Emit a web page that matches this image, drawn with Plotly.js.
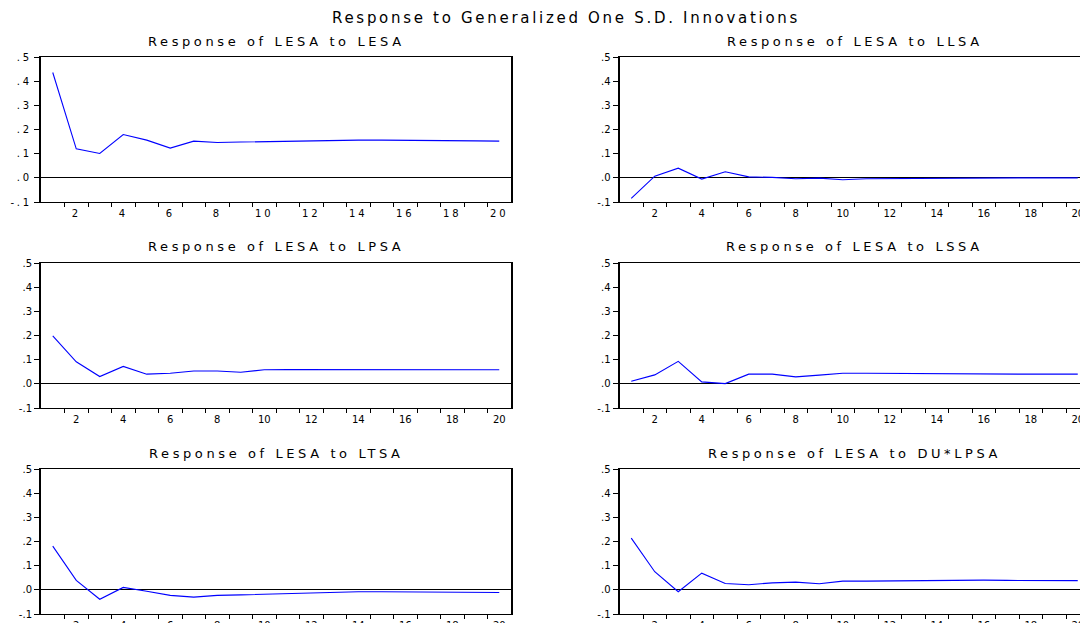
<!DOCTYPE html>
<html>
<head>
<meta charset="utf-8">
<script src="https://cdn.plot.ly/plotly-3.0.1.min.js"></script>
<style>
  html, body { margin: 0; padding: 0; overflow: hidden; background: #fff; }
  #chart { width: 1132px; height: 640px; }
  .gtitle { letter-spacing: 2.7px; }
  .annotation-text { letter-spacing: 3.6px; }
  .xtick text, .ytick text { letter-spacing: 2.8px; }
</style>
</head>
<body>
<div id="chart"></div>
<script>
// Periods
const periods = [1,2,3,4,5,6,7,8,9,10,11,12,13,14,15,16,17,18,19,20];

// Responses of LESA to each shock
const toLESA   = [0.436,0.120,0.101,0.179,0.156,0.123,0.152,0.146,0.148,0.150,0.153,0.152,0.156,0.156,0.156,0.156,0.156,0.155,0.153,0.152];
const toLLSA   = [-0.085,0.007,0.040,-0.005,0.025,0.004,0.002,-0.004,-0.001,-0.008,-0.004,-0.003,-0.003,-0.002,-0.001,0.000,0.000,0.000,0.000,0.000];
const toLPSA   = [0.198,0.091,0.030,0.072,0.040,0.044,0.053,0.053,0.048,0.058,0.059,0.059,0.060,0.060,0.060,0.060,0.060,0.059,0.059,0.058];
const toLSSA   = [0.011,0.037,0.093,0.008,0.001,0.040,0.040,0.029,0.036,0.044,0.044,0.043,0.043,0.043,0.042,0.040,0.040,0.040,0.040,0.040];
const toLTSA   = [0.181,0.039,-0.039,0.010,-0.006,-0.023,-0.030,-0.023,-0.021,-0.018,-0.017,-0.012,-0.008,-0.008,-0.008,-0.008,-0.009,-0.009,-0.010,-0.011];
const toDULPSA = [0.214,0.075,-0.008,0.069,0.026,0.021,0.029,0.032,0.025,0.036,0.036,0.037,0.039,0.040,0.040,0.040,0.039,0.039,0.038,0.038];

const series = [toLESA, toLLSA, toLPSA, toLSSA, toLTSA, toDULPSA];
const panelTitles = [
  "Response of LESA to LESA", "Response of LESA to LLSA",
  "Response of LESA to LPSA", "Response of LESA to LSSA",
  "Response of LESA to LTSA", "Response of LESA to DU*LPSA"
];

// Tick labels
const xTickVals = [2,4,6,8,10,12,14,16,18,20];
const xTickText = ["2","4","6","8","10","12","14","16","18","20"];
const xMinorVals = [1.5,2.5,3.5,4.5,5.5,6.5,7.5,8.5,9.5,10.5,11.5,12.5,13.5,14.5,15.5,16.5,17.5,18.5,19.5];
const yTickVals = [-0.1,0,0.1,0.2,0.3,0.4,0.5];
const yTickText = ["-.1",".0",".1",".2",".3",".4",".5"];
const mainTitle = "Response to Generalized One S.D. Innovations";

const W = 1132, H = 640;
const colDom = [[41/W, 511/W], [619.5/W, 1089.5/W]];
const rowPx = [[57,202],[263,408],[469,614]];
const rowDom = rowPx.map(r => [1 - r[1]/H, 1 - r[0]/H]);

const FONT = "DejaVu Sans, Verdana, sans-serif";
const data = [];
const layout = {
  width: W, height: H,
  margin: {l:0, r:0, t:0, b:0},
  paper_bgcolor: "#fff", plot_bgcolor: "#fff",
  showlegend: false,
  font: {family: FONT, color: "#000", size: 10},
  title: {text: mainTitle, font: {family: FONT, size: 15, color: "#000"},
          x: 0.5, xanchor: "center", y: 1 - 18/H, yanchor: "middle", yref: "container"},
  annotations: []
};

for (let i = 0; i < 6; i++) {
  const row = Math.floor(i/2), col = i % 2;
  const n = i + 1;
  const xa = "xaxis" + (n === 1 ? "" : n), ya = "yaxis" + (n === 1 ? "" : n);
  const xr = "x" + (n === 1 ? "" : n), yr = "y" + (n === 1 ? "" : n);
  data.push({
    x: periods, y: series[i], type: "scatter", mode: "lines",
    line: {color: "#0000ff", width: 1.1}, xaxis: xr, yaxis: yr, hoverinfo: "skip"
  });
  layout[xa] = {
    domain: colDom[col], anchor: yr, range: [0.5, 20.5],
    showgrid: false, zeroline: false,
    showline: true, linecolor: "#000", linewidth: 1, mirror: true,
    tickmode: "array", tickvals: xTickVals, ticktext: xTickText,
    ticks: "outside", ticklen: 2, tickcolor: "rgba(0,0,0,0)",
    minor: {tickmode: "array", tickvals: xMinorVals, ticks: "outside", ticklen: 4, tickcolor: "#000", tickwidth: 1, showgrid: false},
    tickfont: {family: FONT, size: 10, color: "#000"},
    fixedrange: true
  };
  layout[ya] = {
    domain: rowDom[row], anchor: xr, range: [-0.1, 0.5],
    showgrid: false,
    zeroline: true, zerolinecolor: "#000", zerolinewidth: 1,
    showline: true, linecolor: "#000", linewidth: 2, mirror: true,
    tickmode: "array", tickvals: yTickVals, ticktext: yTickText,
    ticks: "outside", ticklen: 5, tickcolor: "#000", tickwidth: 1,
    tickfont: {family: FONT, size: 10, color: "#000"},
    fixedrange: true
  };
  layout.annotations.push({
    text: panelTitles[i], xref: "paper", yref: "paper",
    x: (colDom[col][0] + colDom[col][1]) / 2, xanchor: "center",
    y: rowDom[row][1] + 16/H, yanchor: "middle",
    showarrow: false, font: {family: FONT, size: 13, color: "#000"}
  });
}

Plotly.newPlot("chart", data, layout, {displayModeBar: false, staticPlot: true});
</script>
</body>
</html>
